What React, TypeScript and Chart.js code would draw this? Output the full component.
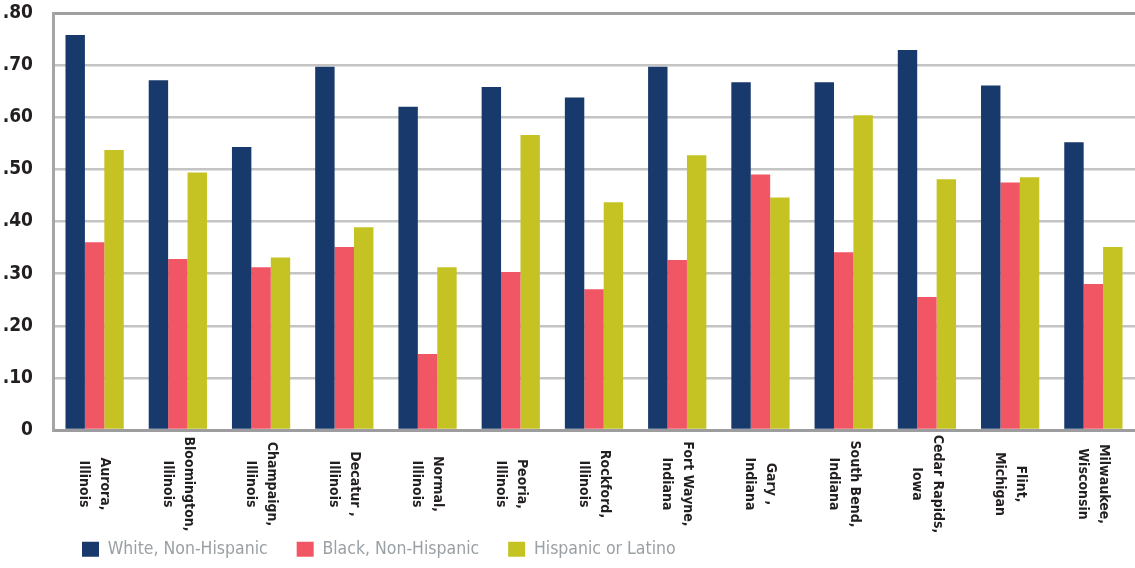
import React, { useEffect, useRef } from "react";
import { Chart, registerables } from "chart.js";

Chart.register(...registerables);

const categories: string[][] = [
  ["Aurora,", "Illinois"],
  ["Bloomington,", "Illinois"],
  ["Champaign,", "Illinois"],
  ["Decatur ,", "Illinois"],
  ["Normal,", "Illinois"],
  ["Peoria,", "Illinois"],
  ["Rockford,", "Illinois"],
  ["Fort Wayne,", "Indiana"],
  ["Gary ,", "Indiana"],
  ["South Bend,", "Indiana"],
  ["Cedar Rapids,", "Iowa"],
  ["Flint,", "Michigan"],
  ["Milwaukee,", "Wisconsin"],
];

const seriesNames = ["White, Non-Hispanic", "Black, Non-Hispanic", "Hispanic or Latino"];

const whiteValues = [0.758, 0.671, 0.543, 0.697, 0.620, 0.658, 0.638, 0.697, 0.667, 0.667, 0.729, 0.661, 0.552];
const blackValues = [0.360, 0.328, 0.312, 0.351, 0.146, 0.303, 0.270, 0.326, 0.490, 0.341, 0.255, 0.475, 0.280];
const hispanicValues = [0.537, 0.494, 0.331, 0.389, 0.312, 0.566, 0.437, 0.527, 0.446, 0.604, 0.481, 0.485, 0.351];

const yTicks = [0, 0.1, 0.2, 0.3, 0.4, 0.5, 0.6, 0.7, 0.8];

const NARROW = "'DejaVu Sans Condensed', 'Liberation Sans Narrow', sans-serif";

const rotatedLabels = {
  id: "rotatedLabels",
  afterDraw(chart: any) {
    const { ctx } = chart;
    const xScale = chart.scales.x;
    const labels = chart.data.labels as string[][];
    ctx.save();
    ctx.fillStyle = "#231f20";
    ctx.font = `bold 14px ${NARROW}`;
    ctx.textAlign = "center";
    ctx.textBaseline = "middle";
    labels.forEach((lines, i) => {
      const x = xScale.getPixelForTick(i);
      ctx.save();
      ctx.translate(x, 484);
      ctx.rotate(Math.PI / 2);
      const n = lines.length;
      lines.forEach((line, j) => {
        const off = (j - (n - 1) / 2) * 21;
        ctx.fillText(line, 0, off);
      });
      ctx.restore();
    });
    ctx.restore();
  },
};

export default function App() {
  const canvasRef = useRef<HTMLCanvasElement>(null);

  useEffect(() => {
    document.body.style.margin = "0";
    const canvas = canvasRef.current;
    if (!canvas) return;
    const chart = new Chart(canvas, {
      type: "bar",
      data: {
        labels: categories,
        datasets: [
          { label: seriesNames[0], data: whiteValues, backgroundColor: "#18396b" },
          { label: seriesNames[1], data: blackValues, backgroundColor: "#f15665" },
          { label: seriesNames[2], data: hispanicValues, backgroundColor: "#c5c323" },
        ],
      },
      options: {
        animation: false,
        responsive: true,
        maintainAspectRatio: false,
        layout: { padding: { top: 13, right: 0, left: 0, bottom: 0 } },
        datasets: { bar: { categoryPercentage: 0.7, barPercentage: 1.0 } },
        plugins: {
          tooltip: { enabled: false },
          legend: {
            position: "bottom",
            align: "start",
            fullSize: false,
            labels: {
              boxWidth: 17,
              boxHeight: 15,
              padding: 29,
              color: "#9aa0a4",
              font: { family: NARROW, size: 17.5 },
            },
          },
        },
        scales: {
          x: {
            grid: { display: false },
            border: { display: true, color: "#9d9d9f", width: 3 },
            ticks: { display: false },
            afterFit(scale: any) {
              scale.height = 81.5;
            },
          },
          y: {
            min: 0,
            max: 0.8,
            afterBuildTicks(scale: any) {
              scale.ticks = yTicks.map((v) => ({ value: v }));
            },
            ticks: {
              padding: 20,
              color: "#231f20",
              font: { family: NARROW, size: 19, weight: "bold" },
              callback: (v: any) => (Number(v) === 0 ? "0" : "." + Math.round(Number(v) * 100)),
            },
            grid: {
              drawTicks: false,
              color: (c: any) => (c.tick && Math.abs(c.tick.value - 0.8) < 1e-6 ? "#a0a0a0" : "#c4c4c4"),
              lineWidth: (c: any) => (c.tick && Math.abs(c.tick.value - 0.8) < 1e-6 ? 3 : 2.5),
            },
            border: { display: true, color: "#a5a5a7", width: 3 },
            afterFit(scale: any) {
              scale.width = 53;
              scale.paddingTop = 0;
              scale.paddingBottom = 0;
            },
          },
        },
      },
      plugins: [rotatedLabels],
    });
    return () => chart.destroy();
  }, []);

  return (
    <div style={{ position: "relative", width: 1135, height: 568 }}>
      <canvas ref={canvasRef} />
    </div>
  );
}
